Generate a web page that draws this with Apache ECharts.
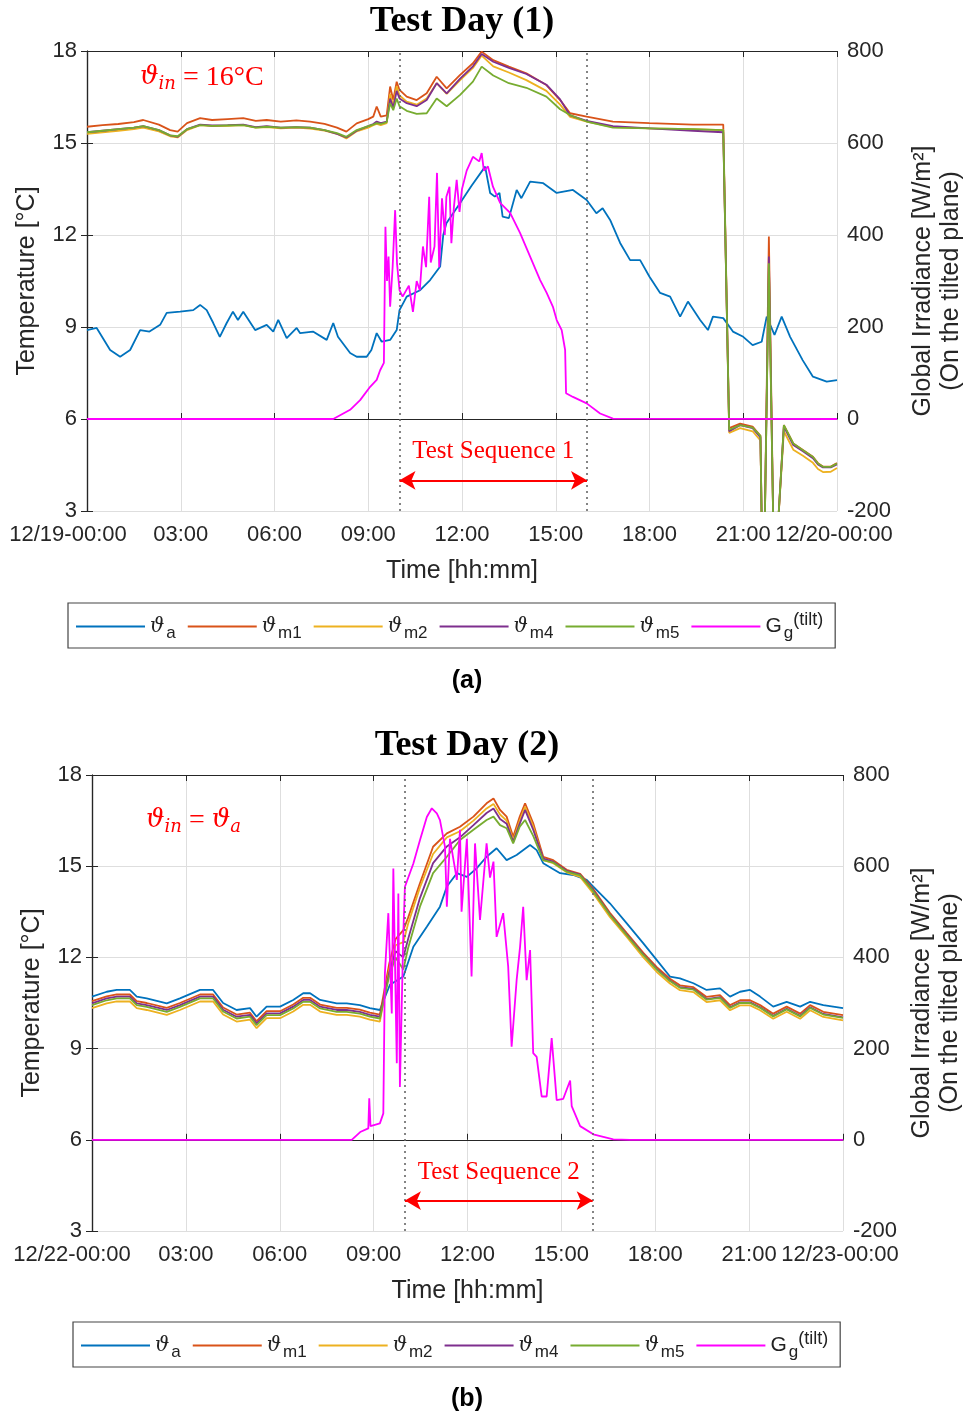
<!DOCTYPE html>
<html><head><meta charset="utf-8">
<script src="https://cdn.jsdelivr.net/npm/echarts@6/dist/echarts.min.js"></script>
<style>html,body{margin:0;padding:0;background:#fff}#c{width:963px;height:1418px}</style>
</head><body><div id="c"></div>
<script>
// ---------- tick labels ----------
const xTickLabelsA = ['12/19-00:00','03:00','06:00','09:00','12:00','15:00','18:00','21:00','12/20-00:00'];
const xTickLabelsB = ['12/22-00:00','03:00','06:00','09:00','12:00','15:00','18:00','21:00','12/23-00:00'];
const seriesNames = ['ϑa','ϑm1','ϑm2','ϑm4','ϑm5','Gg(tilt)'];

// ---------- Test Day (1) ----------
const aAmbH = [0,0.31,0.74,1.06,1.38,1.7,2.0,2.34,2.55,2.98,3.4,3.62,3.83,4.04,4.25,4.47,4.67,4.83,5.0,5.38,5.75,5.96,6.12,6.39,6.71,6.82,7.23,7.67,7.88,8.03,8.42,8.63,8.95,9.1,9.27,9.43,9.7,9.91,10.0,10.23,10.66,10.98,11.3,11.4,11.5,11.94,12.3,12.74,12.9,13.05,13.2,13.3,13.5,13.75,13.9,14.18,14.6,15.03,15.55,15.99,16.3,16.5,16.74,17.06,17.38,17.7,18.0,18.34,18.66,18.98,19.23,19.62,19.87,20.03,20.36,20.67,21.0,21.3,21.59,21.75,22.0,22.23,22.5,22.9,23.23,23.67,24];
const aAmbV = [8.9,8.97,8.25,8.03,8.25,8.9,8.85,9.07,9.46,9.5,9.55,9.72,9.55,9.13,8.68,9.13,9.5,9.23,9.5,8.9,9.07,8.85,9.23,8.64,8.97,8.8,8.85,8.58,9.13,8.68,8.15,8.03,8.03,8.25,8.8,8.52,8.58,8.9,9.55,9.99,10.2,10.53,10.97,12.0,12.38,13.04,13.6,14.23,13.37,13.25,13.37,12.6,12.55,13.47,13.2,13.74,13.69,13.37,13.47,13.14,12.71,12.87,12.49,11.74,11.18,11.18,10.64,10.11,9.99,9.34,9.83,9.23,8.9,9.34,9.29,8.85,8.68,8.41,8.52,9.34,8.74,9.34,8.68,7.92,7.38,7.22,7.27];

const aModH = [0,0.5,1,1.5,1.8,2.3,2.66,2.9,3.2,3.62,4,4.5,5,5.4,5.75,6.2,6.7,7.14,7.6,8.0,8.3,8.63,9.0,9.16,9.27,9.4,9.59,9.7,9.8,9.91,10.0,10.23,10.55,10.87,11.19,11.51,11.94,12.35,12.63,13.0,13.5,14.06,14.7,15.14,15.46,15.99,16.83,18.0,19.39,20.36,20.42,20.55,20.9,21.3,21.55,21.6,21.68,21.82,21.97,22.08,22.3,22.6,22.91,23.23,23.39,23.55,23.8,24];
const aM1 = [15.53,15.58,15.62,15.68,15.75,15.6,15.42,15.37,15.65,15.81,15.75,15.78,15.81,15.72,15.75,15.7,15.74,15.7,15.62,15.5,15.37,15.64,15.78,15.86,16.19,15.86,15.9,16.84,16.4,17.0,16.73,16.51,16.4,16.62,17.16,16.78,17.22,17.6,17.98,17.7,17.49,17.27,16.89,16.4,15.97,15.86,15.7,15.65,15.6,15.6,15.62,5.7,5.85,5.75,5.45,2.0,2.0,11.95,2.0,2.0,5.8,5.2,4.99,4.77,4.56,4.45,4.45,4.56];
const aM2 = [15.3,15.35,15.4,15.45,15.5,15.38,15.22,15.18,15.42,15.58,15.55,15.56,15.58,15.5,15.52,15.48,15.5,15.47,15.4,15.3,15.15,15.38,15.5,15.58,15.62,15.58,15.65,16.6,16.2,16.85,16.55,16.35,16.25,16.45,16.95,16.6,17.05,17.45,17.85,17.5,17.3,17.05,16.7,16.25,15.85,15.7,15.52,15.48,15.45,15.42,15.45,5.55,5.7,5.6,5.3,2.0,2.0,11.1,2.0,2.0,5.6,5.0,4.8,4.57,4.37,4.27,4.28,4.4];
const aM4 = [15.35,15.4,15.45,15.5,15.55,15.42,15.25,15.2,15.45,15.6,15.57,15.58,15.6,15.52,15.55,15.5,15.52,15.5,15.42,15.3,15.18,15.4,15.55,15.62,15.7,15.65,15.7,16.45,16.15,16.7,16.45,16.3,16.2,16.4,16.95,16.62,17.1,17.5,17.9,17.65,17.45,17.25,16.9,16.42,15.9,15.72,15.55,15.48,15.4,15.35,15.35,5.6,5.8,5.7,5.4,2.0,2.0,11.3,2.0,2.0,5.75,5.15,4.95,4.72,4.52,4.42,4.42,4.52];
const aM5 = [15.35,15.4,15.45,15.5,15.55,15.42,15.25,15.22,15.45,15.58,15.56,15.57,15.58,15.5,15.53,15.5,15.52,15.5,15.42,15.32,15.2,15.42,15.55,15.6,15.65,15.62,15.68,16.3,16.07,16.45,16.2,16.05,15.95,15.97,16.45,16.2,16.57,17.0,17.49,17.2,16.95,16.8,16.51,16.1,15.91,15.7,15.5,15.48,15.45,15.42,15.45,5.65,5.8,5.72,5.45,2.0,2.0,11.08,2.0,2.0,5.8,5.2,4.98,4.76,4.55,4.44,4.44,4.55];

const aIrrH = [0,7.88,8.42,8.74,9.06,9.27,9.38,9.5,9.55,9.6,9.65,9.7,9.78,9.86,9.92,10.0,10.1,10.3,10.43,10.55,10.65,10.75,10.85,10.95,11.0,11.12,11.2,11.27,11.36,11.45,11.5,11.6,11.66,11.74,11.83,11.92,12.0,12.15,12.35,12.55,12.63,12.7,12.83,12.99,13.22,13.54,13.86,14.18,14.5,14.71,14.91,15.03,15.19,15.3,15.33,15.55,15.99,16.42,16.83,24];
const aIrrV = [0,0,20,41,70,85,106,122,418,300,353,244,330,454,339,280,266,290,233,300,280,375,330,483,340,375,535,330,480,400,483,505,382,460,520,450,500,540,570,560,578,540,549,505,470,448,404,353,302,274,244,215,193,150,56,48,34,12,1,0];

// ---------- Test Day (2) ----------
const bAmbH = [0,0.47,0.79,1.21,1.43,1.75,2.39,2.81,3.45,3.87,4.19,4.62,5.05,5.26,5.58,6.01,6.43,6.75,6.97,7.29,7.82,8.14,8.56,8.88,9.2,9.52,9.95,10.27,10.7,11.12,11.34,11.66,11.98,12.29,12.61,12.93,13.25,13.57,14.0,14.21,14.42,14.96,15.38,15.81,16.02,16.55,17.09,17.62,18.05,18.47,18.79,19.22,19.64,20.07,20.39,20.71,21.03,21.35,21.77,22.2,22.63,22.95,23.37,24];
const bAmbV = [10.71,10.87,10.93,10.93,10.71,10.65,10.49,10.65,10.93,10.93,10.5,10.27,10.33,10.05,10.38,10.38,10.6,10.82,10.82,10.6,10.49,10.49,10.43,10.33,10.27,11.1,11.37,12.35,13.01,13.67,14.33,14.77,14.65,14.93,15.31,15.59,15.2,15.37,15.7,15.53,15.1,14.77,14.71,14.55,14.33,13.78,13.12,12.46,11.91,11.37,11.31,11.15,10.93,10.98,10.71,10.87,10.93,10.71,10.38,10.54,10.38,10.54,10.43,10.33];

const bModH = [0,0.47,0.79,1.21,1.43,1.75,2.39,2.81,3.45,3.87,4.19,4.62,5.05,5.26,5.58,6.01,6.43,6.75,6.97,7.29,7.82,8.14,8.56,8.88,9.2,9.5,9.7,9.95,10.1,10.48,10.9,11.34,11.76,12.19,12.61,12.83,13.04,13.25,13.46,13.67,13.84,14.1,14.42,14.74,15.17,15.6,16.02,16.55,17.09,17.62,18.05,18.47,18.79,19.22,19.64,20.07,20.39,20.71,21.03,21.35,21.77,22.2,22.63,22.95,23.37,24];
const bM1 = [10.56,10.72,10.78,10.78,10.56,10.5,10.34,10.5,10.78,10.78,10.35,10.12,10.18,9.9,10.23,10.23,10.45,10.67,10.67,10.45,10.34,10.34,10.28,10.18,10.12,
  11.8,12.6,12.9,13.3,14.44,15.64,16.08,16.3,16.63,17.07,17.23,16.85,16.63,15.97,16.63,17.07,16.41,15.31,15.2,14.88,14.75,14.25,13.47,12.8,12.15,11.68,11.3,11.08,11.02,10.7,10.76,10.43,10.59,10.59,10.43,10.15,10.38,10.15,10.43,10.21,10.1];
const bM2 = [10.33,10.49,10.55,10.55,10.33,10.27,10.11,10.27,10.55,10.55,10.12,9.89,9.95,9.67,10.0,10.0,10.22,10.44,10.44,10.22,10.11,10.11,10.05,9.95,9.89,
  11.6,12.4,12.5,13.1,14.3,15.4,15.95,16.15,16.5,16.9,17.05,16.7,16.5,15.85,16.5,16.95,16.3,15.2,15.1,14.8,14.65,14.1,13.33,12.67,12.0,11.52,11.14,10.92,10.86,10.53,10.59,10.26,10.42,10.42,10.26,9.98,10.21,9.98,10.26,10.04,9.93];
const bM4 = [10.49,10.65,10.71,10.71,10.49,10.43,10.27,10.43,10.71,10.71,10.28,10.05,10.11,9.83,10.16,10.16,10.38,10.6,10.6,10.38,10.27,10.27,10.21,10.11,10.05,
  11.5,12.2,12.0,12.6,13.95,15.1,15.65,15.95,16.35,16.75,16.9,16.55,16.4,15.8,16.4,16.85,16.2,15.25,15.15,14.85,14.72,14.2,13.42,12.75,12.1,11.62,11.24,11.02,10.96,10.63,10.69,10.36,10.52,10.52,10.36,10.08,10.31,10.08,10.36,10.14,10.03];
const bM5 = [10.43,10.59,10.65,10.65,10.43,10.37,10.21,10.37,10.65,10.65,10.22,9.99,10.05,9.77,10.1,10.1,10.32,10.54,10.54,10.32,10.21,10.21,10.15,10.05,9.99,
  11.4,12.0,11.6,12.3,13.67,14.77,15.31,15.86,16.2,16.52,16.63,16.35,16.25,15.75,16.3,16.52,16.0,15.2,15.12,14.82,14.7,14.17,13.4,12.73,12.08,11.6,11.22,11.0,10.94,10.61,10.67,10.34,10.5,10.5,10.34,10.06,10.29,10.06,10.34,10.12,10.01];

const bIrrH = [0,8.3,8.57,8.83,8.86,8.9,9.2,9.31,9.36,9.47,9.58,9.63,9.74,9.79,9.84,9.95,10.0,10.27,10.48,10.7,10.86,11.02,11.12,11.28,11.34,11.44,11.66,11.76,11.81,11.98,12.13,12.24,12.4,12.61,12.72,12.83,12.93,13.14,13.3,13.41,13.57,13.68,13.78,13.89,14.0,14.1,14.21,14.37,14.53,14.69,14.85,15.06,15.28,15.33,15.6,16.02,16.66,17.19,24];
const bIrrV = [0,0,17,25,91,30,36,58,365,497,277,595,168,540,116,453,555,606,657,708,727,716,701,643,511,660,570,680,500,660,358,650,482,650,575,610,445,497,380,204,350,423,511,350,416,190,182,95,95,223,87,90,130,74,30,12,1,0,0];

// ---------- helpers ----------
const COL = {a:'#0072BD', m1:'#D95319', m2:'#EDB120', m4:'#7E2F8E', m5:'#77AC30', g:'#FF00FF'};
const SANS = '"Liberation Sans", Arial, sans-serif';
const SERIF = '"Liberation Serif", "Times New Roman", serif';
function pairs(h, v){ return h.map((t,i)=>[t, v[i]]); }

const legendRich = {
  v:{fontFamily:'"DejaVu Serif"', fontStyle:'italic', fontSize:20, color:'#222'},
  s:{fontFamily:SANS, fontSize:17, color:'#222', verticalAlign:'bottom', padding:[14,0,0,2]},
  g:{fontFamily:SANS, fontSize:21, color:'#222'},
  p:{fontFamily:SANS, fontSize:18, color:'#222', verticalAlign:'top', padding:[0,0,10,0]}
};
const legendText = {
  'ϑa':'{v|ϑ}{s|a}', 'ϑm1':'{v|ϑ}{s|m1}', 'ϑm2':'{v|ϑ}{s|m2}', 'ϑm4':'{v|ϑ}{s|m4}', 'ϑm5':'{v|ϑ}{s|m5}',
  'Gg(tilt)':'{g|G}{s|g}{p|(tilt)}'
};

function makeXAxes(gridIndex, labels, shiftFirst){
  return [{
    gridIndex, type:'value', min:0, max:24, interval:3, position:'bottom',
    axisLine:{show:true, lineStyle:{color:'#262626', width:1.2}},
    axisTick:{show:true, inside:true, length:6, lineStyle:{color:'#262626'}},
    splitLine:{show:true, lineStyle:{color:'#dedede', width:1}},
    axisLabel:{
      margin:13, color:'#262626', fontFamily:SANS, fontSize:22, hideOverlap:false, showMinLabel:true, showMaxLabel:true,
      formatter:(v)=>{
        const i = Math.round(v/3); const t = labels[i];
        if(i===0) return '{f|'+t+'}';
        if(i===8) return '{l|'+t+'}';
        return t;
      },
      rich:{
        f:{fontFamily:SANS, fontSize:22, color:'#262626', padding:[0,shiftFirst,0,0]},
        l:{fontFamily:SANS, fontSize:22, color:'#262626', padding:[0,6,0,0]}
      }
    },
    name:'Time [hh:mm]', nameLocation:'middle', nameGap:48,
    nameTextStyle:{fontFamily:SANS, fontSize:25, color:'#262626'}
  },{
    gridIndex, type:'value', min:0, max:24, interval:3, position:'top',
    axisLine:{show:true, lineStyle:{color:'#262626', width:1.2}},
    axisTick:{show:true, inside:true, length:6, lineStyle:{color:'#262626'}},
    axisLabel:{show:false}, splitLine:{show:false}
  }];
}
function makeYAxes(gridIndex, rightGap){
  return [{
    gridIndex, type:'value', min:3, max:18, interval:3, position:'left',
    axisLine:{show:true, lineStyle:{color:'#262626', width:1.2}},
    axisTick:{show:true, inside:true, length:6, lineStyle:{color:'#262626'}},
    splitLine:{show:true, lineStyle:{color:'#dedede', width:1}},
    axisLabel:{margin:10, color:'#262626', fontFamily:SANS, fontSize:22},
    name:'Temperature [°C]', nameLocation:'middle', nameGap:47, nameRotate:90,
    nameTextStyle:{fontFamily:SANS, fontSize:25, color:'#262626'}
  },{
    gridIndex, type:'value', min:-200, max:800, interval:200, position:'right',
    axisLine:{show:true, lineStyle:{color:'#262626', width:1.2}},
    axisTick:{show:true, inside:true, length:6, lineStyle:{color:'#262626'}},
    splitLine:{show:false},
    axisLabel:{margin:10, color:'#262626', fontFamily:SANS, fontSize:22},
    name:'Global Irradiance [W/m²]\n(On the tilted plane)', nameLocation:'middle', nameGap:rightGap, nameRotate:90,
    nameTextStyle:{fontFamily:SANS, fontSize:25, color:'#262626', lineHeight:28}
  }];
}
function lineSeries(name, xi, yi, data, color, extra){
  return Object.assign({
    name, type:'line', xAxisIndex:xi, yAxisIndex:yi, data, showSymbol:false, symbol:'none',
    lineStyle:{width:1.8, color}, itemStyle:{color}, clip:true, animation:false
  }, extra||{});
}
function seqMarks(label){
  return {
    silent:true, symbol:'none', animation:false,
    data:[
      {xAxis:10, lineStyle:{color:'#666', type:[2,4], width:1.6}, label:{show:false}},
      {xAxis:16, lineStyle:{color:'#666', type:[2,4], width:1.6}, label:{show:false}},
      [{coord:[10,4], symbol:'arrow', symbolSize:[14,16], lineStyle:{color:'#ff0000', type:'solid', width:2},
        label:{show:true, position:'middle', formatter:label, color:'#ff0000', fontFamily:SERIF, fontSize:25, distance:16}},
       {coord:[16,4], symbol:'arrow', symbolSize:[14,16]}]
    ]
  };
}
function legendFor(top, left){
  return {
    data:seriesNames, top, left, orient:'horizontal', icon:'rect', itemWidth:69, itemHeight:2, itemGap:12,
    borderColor:'#444', borderWidth:1.2, borderRadius:0, padding:[8,12,6,8], backgroundColor:'#fff',
    formatter:(n)=>legendText[n], textStyle:{rich:legendRich, fontSize:20}, selectedMode:false
  };
}

const option = {
  animation:false,
  backgroundColor:'#ffffff',
  grid:[
    {left:87, top:51, width:750, height:460, containLabel:false, outerBoundsMode:'none'},
    {left:92, top:775, width:751, height:456, containLabel:false, outerBoundsMode:'none'}
  ],
  xAxis:[...makeXAxes(0, xTickLabelsA, 38), ...makeXAxes(1, xTickLabelsB, 40)],
  yAxis:[...makeYAxes(0, 72), ...makeYAxes(1, 62)],
  legend:[legendFor(603, 68), legendFor(1322, 73)],
  series:[
    lineSeries('ϑa', 0, 0, pairs(aAmbH, aAmbV), COL.a, {markLine:seqMarks('Test Sequence 1')}),
    lineSeries('ϑm1', 0, 0, pairs(aModH, aM1), COL.m1),
    lineSeries('ϑm2', 0, 0, pairs(aModH, aM2), COL.m2),
    lineSeries('ϑm4', 0, 0, pairs(aModH, aM4), COL.m4),
    lineSeries('ϑm5', 0, 0, pairs(aModH, aM5), COL.m5),
    lineSeries('Gg(tilt)', 0, 1, pairs(aIrrH, aIrrV), COL.g),
    lineSeries('ϑa', 2, 2, pairs(bAmbH, bAmbV), COL.a, {markLine:seqMarks('Test Sequence 2')}),
    lineSeries('ϑm1', 2, 2, pairs(bModH, bM1), COL.m1),
    lineSeries('ϑm2', 2, 2, pairs(bModH, bM2), COL.m2),
    lineSeries('ϑm4', 2, 2, pairs(bModH, bM4), COL.m4),
    lineSeries('ϑm5', 2, 2, pairs(bModH, bM5), COL.m5),
    lineSeries('Gg(tilt)', 2, 3, pairs(bIrrH, bIrrV), COL.g)
  ],
  graphic:[
    {type:'text', x:462, y:4, style:{text:'Test Day (1)', font:'bold 36px '+SERIF, fill:'#000', textAlign:'center'}},
    {type:'text', x:467, y:728, style:{text:'Test Day (2)', font:'bold 36px '+SERIF, fill:'#000', textAlign:'center'}},
    {type:'text', x:467, y:669, style:{text:'(a)', font:'bold 25px '+SANS, fill:'#000', textAlign:'center'}},
    {type:'text', x:467, y:1387, style:{text:'(b)', font:'bold 25px '+SANS, fill:'#000', textAlign:'center'}},
    {type:'text', x:140, y:62, style:{
      text:'{v|ϑ}{s|in}{n| = 16°C}', fill:'#ff0000',
      rich:{
        v:{fontFamily:'"DejaVu Serif"', fontStyle:'italic', fontSize:26, fill:'#ff0000'},
        s:{fontFamily:'"DejaVu Serif"', fontStyle:'italic', fontSize:18, fill:'#ff0000', verticalAlign:'bottom', padding:[13,0,0,0]},
        n:{fontFamily:SERIF, fontSize:28, fill:'#ff0000'}
      }}},
    {type:'text', x:146, y:805, style:{
      text:'{v|ϑ}{s|in}{n| = }{v|ϑ}{s|a}', fill:'#ff0000',
      rich:{
        v:{fontFamily:'"DejaVu Serif"', fontStyle:'italic', fontSize:26, fill:'#ff0000'},
        s:{fontFamily:'"DejaVu Serif"', fontStyle:'italic', fontSize:18, fill:'#ff0000', verticalAlign:'bottom', padding:[13,0,0,0]},
        n:{fontFamily:SERIF, fontSize:28, fill:'#ff0000'}
      }}}
  ]
};
const chart = echarts.init(document.getElementById('c'), null, {renderer:'canvas'});
chart.setOption(option);
</script>
</body></html>
